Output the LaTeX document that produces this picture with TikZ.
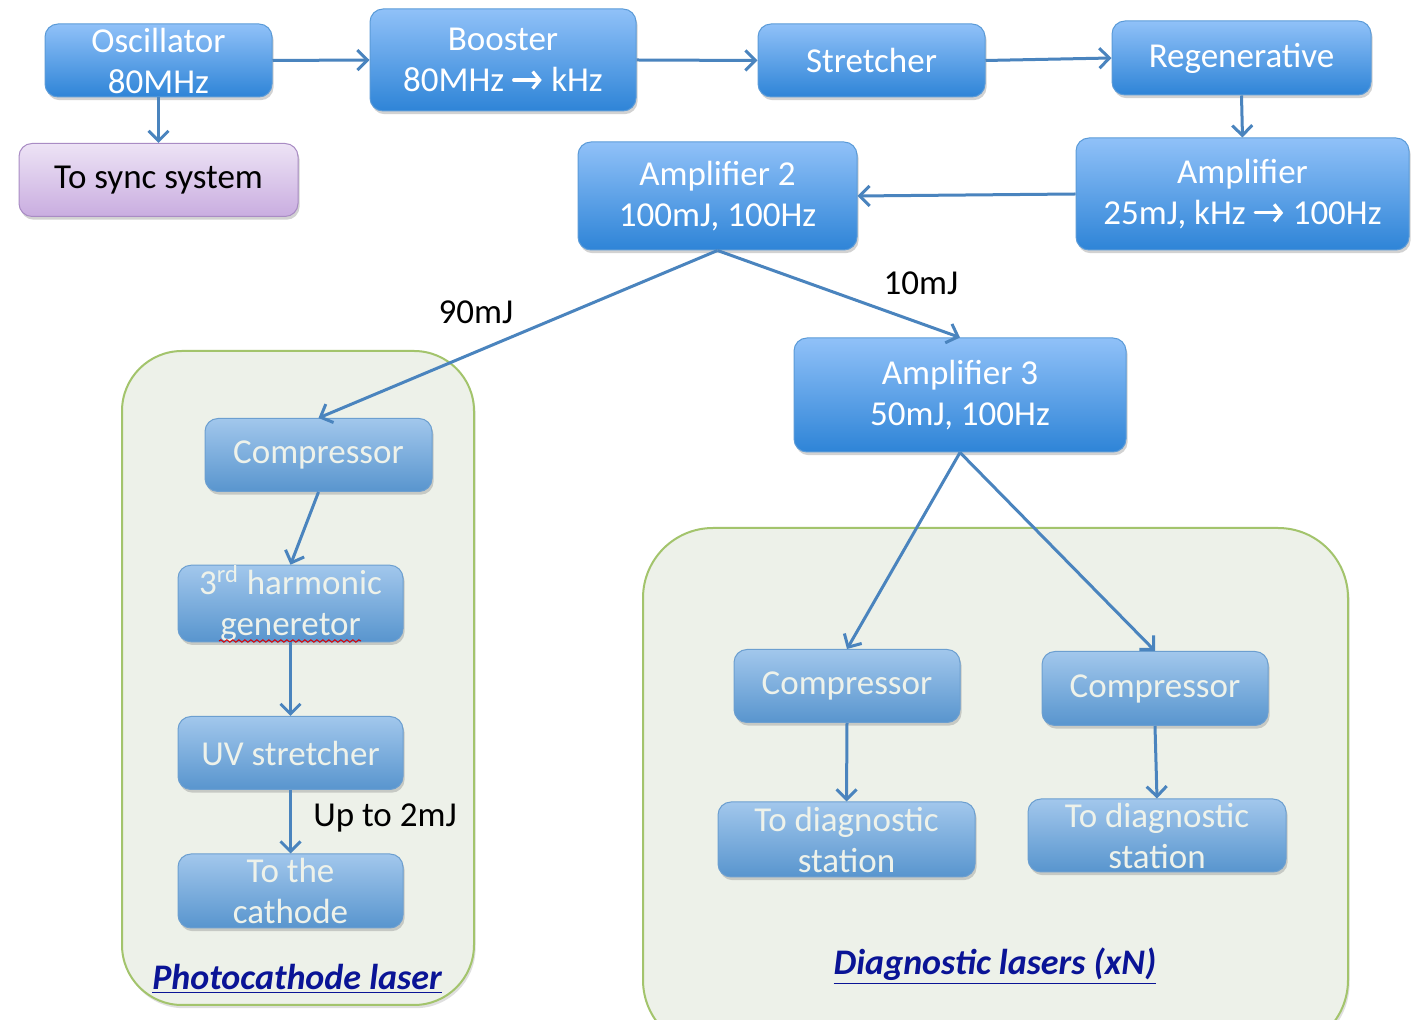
\documentclass[tikz,border=0pt]{standalone}
\usepackage{fontspec}
\setmainfont{Carlito}
\usetikzlibrary{arrows.meta,shadows,decorations.pathmorphing}
\definecolor{bxtop}{HTML}{90C1F8}
\definecolor{bxbot}{HTML}{2E84D7}
\definecolor{bxedge}{HTML}{5B9BD8}
\definecolor{mutop}{HTML}{A2C7EC}
\definecolor{mubot}{HTML}{5895CE}
\definecolor{muedge}{HTML}{6C9FD0}
\definecolor{putop}{HTML}{EDE3F5}
\definecolor{pubot}{HTML}{C9ADE0}
\definecolor{puedge}{HTML}{A98CC4}
\definecolor{arr}{HTML}{4A84BE}
\definecolor{panelfill}{HTML}{EDF1E9}
\definecolor{paneledge}{HTML}{A3C46C}
\definecolor{labblue}{HTML}{0A1496}
\definecolor{mutext}{HTML}{EEF2EA}
\tikzset{
  basebox/.style={rounded corners=6.5pt, inner sep=0pt, align=center,
    font=\fontsize{17.5}{20.5}\selectfont, line width=0.5pt,
    drop shadow={opacity=0.35, shadow xshift=0.8pt, shadow yshift=-1.6pt}},
  bluebox/.style={basebox, top color=bxtop, bottom color=bxbot, draw=bxedge, text=white},
  mutebox/.style={basebox, top color=mutop, bottom color=mubot, draw=muedge, text=mutext},
  purplebox/.style={basebox, top color=putop, bottom color=pubot, draw=puedge, text=black},
  bx/.style 2 args={minimum width=#1*0.5pt, minimum height=#2*0.5pt},
  flow/.style={draw=arr, line width=1.5pt, -{Straight Barb[length=5pt,width=10pt,line width=1.5pt]}},
  lab/.style={font=\fontsize{17.5}{20.5}\selectfont, text=black, inner sep=0pt},
  panel/.style={fill=panelfill, draw=paneledge, line width=1pt,
    drop shadow={opacity=0.25, shadow xshift=0.8pt, shadow yshift=-1.6pt}},
  ptitle/.style={font=\fontsize{18}{21}\selectfont\bfseries\itshape, text=labblue, inner sep=0pt}
}
\newcommand{\rarr}{\tikz[baseline=-0.33em, x=1pt, y=1pt]{\draw[white, line width=1.6pt, line cap=round,
  -{Straight Barb[length=3.5pt,width=8.5pt,line width=1.6pt]}] (0,0) -- (14,0);}}
\newcommand{\ulbox}[1]{\underline{#1}}
\begin{document}
\begin{tikzpicture}[x=0.5pt, y=-0.5pt]
\useasboundingbox[fill=white] (0,0) rectangle (1420,1020);

% panels
\draw[panel, rounded corners=30pt] (122,351) rectangle (474,1005);
\draw[panel, rounded corners=35pt] (643,528) rectangle (1348,1050);

% top chain
\node[bluebox, bx={227}{73}] (osc) at (158.5,60.5) {Oscillator\\80MHz};
\node[bluebox, bx={266}{102}] (boost) at (503,60) {Booster\\80MHz \rarr{} kHz};
\node[bluebox, bx={227}{73}] (str) at (871.5,60.5) {Stretcher};
\node[bluebox, bx={259}{74}] (regen) at (1241.5,58) {Regenerative};
\node[purplebox, bx={279}{73}] (sync) at (158.5,180) {To sync system};
\node[bluebox, bx={279}{108}] (amp2) at (717.5,196) {Amplifier 2\\100mJ, 100Hz};
\node[bluebox, bx={333}{112}] (amp1) at (1242.5,194) {Amplifier\\25mJ, kHz \rarr{} 100Hz};
\node[bluebox, bx={332}{114}] (amp3) at (960,395) {Amplifier 3\\50mJ, 100Hz};

% photocathode branch
\node[mutebox, bx={227}{73}] (compL) at (318.5,455) {Compressor};
\node[mutebox, bx={225}{73}] (harm) at (290.5,603.5) {3\textsuperscript{rd} harmonic\\generetor};
\node[mutebox, bx={225}{73}] (uvs) at (290.5,753) {UV stretcher};
\node[mutebox, bx={225}{74}] (cath) at (290.5,891) {To the\\cathode};

% diagnostic branch
\node[mutebox, bx={226}{73}] (compA) at (847,686) {Compressor};
\node[mutebox, bx={226}{74}] (compB) at (1155,688.5) {Compressor};
\node[mutebox, bx={257}{75}] (stA) at (846.5,839.5) {To diagnostic\\station};
\node[mutebox, bx={258}{73}] (stB) at (1157,835.5) {To diagnostic\\station};

% spell-check squiggle
\coordinate (sqa) at (219,641);
\coordinate (sqb) at (361,641);
\draw[red!85!black, line width=0.5pt, decorate,
  decoration={snake, segment length=3pt, amplitude=0.6pt}] (sqa) -- (sqb);

% labels
\node[lab] (l90) at (476,312) {90mJ};
\node[lab] (l10) at (921,283) {10mJ};
\node[lab] (lup) at (385,818) {Up to 2mJ};
\node[ptitle] (tpc) at (297,979) {\ulbox{Photocathode laser}};
\node[ptitle] (tdl) at (995,966) {\ulbox{Diagnostic lasers (xN)}};

% connectors
\draw[flow] (osc.east) -- (boost.west);
\draw[flow] (boost.east) -- (str.west);
\draw[flow] (str.east) -- (regen.west);
\draw[flow] (regen.south) -- (amp1.north);
\draw[flow] (amp1.west) -- (amp2.east);
\draw[flow] (osc.south) -- (sync.north);
\draw[flow] (amp2.south) -- (compL.north);
\draw[flow] (amp2.south) -- (amp3.north);
\draw[flow] (compL.south) -- (harm.north);
\draw[flow] (harm.south) -- (uvs.north);
\draw[flow] (uvs.south) -- (cath.north);
\draw[flow] (amp3.south) -- (compA.north);
\draw[flow] (amp3.south) -- (compB.north);
\draw[flow] (compA.south) -- (stA.north);
\draw[flow] (compB.south) -- (stB.north);
\end{tikzpicture}
\end{document}
